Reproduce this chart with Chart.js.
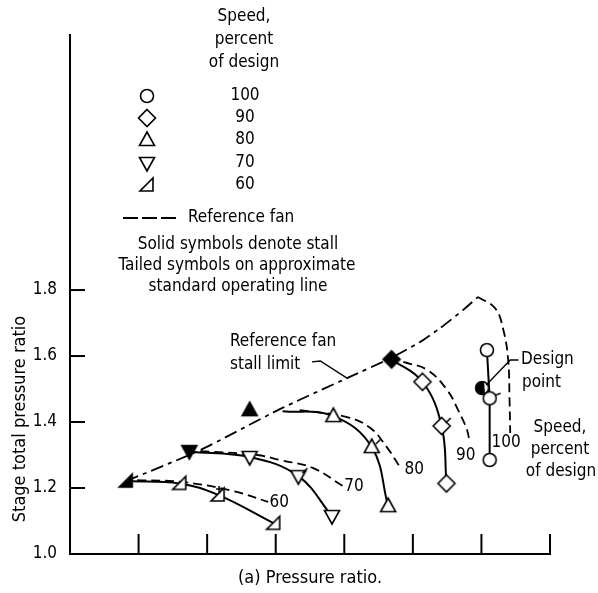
<!DOCTYPE html>
<html><head><meta charset="utf-8">
<script src="https://cdn.jsdelivr.net/npm/chart.js@4.4.0/dist/chart.umd.min.js"></script>
<style>html,body{margin:0;padding:0;background:#fff;}#wrap{width:598px;height:593px;}</style>
</head><body><div id="wrap"><canvas id="c" width="598" height="593"></canvas></div>
<script>
// ---------------- data ----------------
const yTickValues = [1.0, 1.2, 1.4, 1.6, 1.8];
const xTickValues = [1, 2, 3, 4, 5, 6, 7];
const speedLegend = ['100', '90', '80', '70', '60'];

// 60 % speed
const stall60 = [[0.82, 1.221]];
const open60 = [[1.60, 1.214], [2.16, 1.179], [2.97, 1.093]];
const line60 = [[0.82, 1.221], [1.60, 1.214], [2.16, 1.179], [2.97, 1.093]];
const ref60 = [[0.98, 1.224], [1.65, 1.218], [2.38, 1.191], [2.89, 1.158]];
// 70 % speed
const stall70 = [[1.74, 1.312]];
const open70 = [[2.62, 1.294], [3.33, 1.236], [3.82, 1.115]];
const line70 = [[1.74, 1.310], [2.62, 1.294], [3.33, 1.236], [3.82, 1.115]];
const ref70 = [[1.90, 1.312], [2.73, 1.300], [3.06, 1.285], [3.54, 1.261], [3.98, 1.206]];
// 80 % speed
const stall80 = [[2.62, 1.436]];
const open80 = [[3.84, 1.418], [4.40, 1.324], [4.64, 1.145]];
const line80 = [[3.10, 1.433], [3.84, 1.418], [4.40, 1.324], [4.64, 1.145]];
const ref80 = [[3.35, 1.436], [4.04, 1.415], [4.38, 1.382], [4.62, 1.324], [4.81, 1.264]];
// 90 % speed
const stall90 = [[4.69, 1.590]];
const open90 = [[5.14, 1.522], [5.42, 1.388], [5.49, 1.214]];
const line90 = [[4.69, 1.590], [5.14, 1.522], [5.42, 1.388], [5.49, 1.214]];
const ref90 = [[4.86, 1.582], [5.21, 1.558], [5.50, 1.497], [5.66, 1.436], [5.79, 1.376], [5.83, 1.336]];
// 100 % speed
const open100 = [[6.08, 1.618], [6.12, 1.472], [6.12, 1.285]];
const design100 = [[6.01, 1.503]];
const line100 = [[6.08, 1.618], [6.12, 1.472], [6.12, 1.285]];
const ref100 = [[5.95, 1.779], [6.20, 1.745], [6.32, 1.679], [6.39, 1.588], [6.41, 1.467], [6.42, 1.367]];
// reference fan stall limit
const stallLimit = [[0.82, 1.221], [1.90, 1.315], [3.06, 1.439], [4.04, 1.533], [4.68, 1.594], [5.10, 1.642], [5.40, 1.685], [5.73, 1.739], [5.95, 1.779]];
// index of the tailed symbol (operating line) in each open series
const tailed60 = 1, tailed70 = 1, tailed80 = 1, tailed90 = 1, tailed100 = 1;

// curve labels: text, x, y (data units)
const curveLabels = [['60', 3.05, 1.155], ['70', 4.14, 1.203], ['80', 5.02, 1.255], ['90', 5.77, 1.297], ['100', 6.36, 1.339]];
// leader lines (data units)
const stallLeader = [[3.53, 1.582], [3.65, 1.585], [4.04, 1.533]];
const designLeader = [[6.54, 1.588], [6.42, 1.588], [6.07, 1.512]];

// ---------------- styling ----------------
const FONT = '"DejaVu Sans Condensed", "DejaVu Sans", sans-serif';
const toXY = a => a.map(([x, y]) => ({x, y}));

function drawSym(g, kind, cx, cy, filled, tail) {
  g.save();
  g.lineWidth = 1.6; g.strokeStyle = '#000'; g.fillStyle = filled ? '#000' : '#fff';
  g.beginPath();
  if (kind === 'circle' || kind === 'half') g.arc(cx, cy, 6.5, 0, Math.PI * 2);
  else if (kind === 'diamond') { g.moveTo(cx, cy - 8.5); g.lineTo(cx + 8.5, cy); g.lineTo(cx, cy + 8.5); g.lineTo(cx - 8.5, cy); g.closePath(); }
  else if (kind === 'up') { g.moveTo(cx, cy - 8); g.lineTo(cx + 7.5, cy + 5.5); g.lineTo(cx - 7.5, cy + 5.5); g.closePath(); }
  else if (kind === 'down') { g.moveTo(cx - 7.5, cy - 5.5); g.lineTo(cx + 7.5, cy - 5.5); g.lineTo(cx, cy + 8); g.closePath(); }
  else if (kind === 'rt') { g.moveTo(cx - 7, cy + 6); g.lineTo(cx + 6, cy + 6); g.lineTo(cx + 6, cy - 7); g.closePath(); }
  g.fill(); g.stroke();
  if (kind === 'half') {
    g.beginPath(); g.fillStyle = '#000';
    g.arc(cx, cy, 6.5, Math.PI * 0.35, Math.PI * 1.6); g.closePath(); g.fill();
  }
  if (tail) {
    g.beginPath();
    if (kind === 'rt') { g.moveTo(cx + 1, cy - 2); g.lineTo(cx + 1, cy - 9); g.moveTo(cx - 2, cy - 6); g.lineTo(cx + 4, cy - 6); }
    else if (kind === 'circle') { g.moveTo(cx + 5.5, cy - 3); g.lineTo(cx + 11, cy - 5); }
    else { g.moveTo(cx + 4, cy - 3); g.lineTo(cx + 9, cy - 8); }
    g.stroke();
  }
  g.restore();
}
function marker(kind, filled, tail) {
  const c = document.createElement('canvas'); c.width = 32; c.height = 32;
  drawSym(c.getContext('2d'), kind, 16, 16, filled, tail);
  return c;
}
function styles(kind, n, tailIdx) {
  const a = []; for (let i = 0; i < n; i++) a.push(marker(kind, false, i === tailIdx)); return a;
}

const lineDs = (d, dash, tension) => ({data: toXY(d), showLine: true, pointRadius: 0, borderColor: '#000',
  borderWidth: dash ? 1.8 : 2, borderDash: dash || [], tension: tension === undefined ? 0.4 : tension, fill: false, order: 2});
const markDs = (d, style) => ({data: toXY(d), showLine: false, pointStyle: style, pointRadius: 8, order: 0});

const REF_DASH = [9, 5];
const datasets = [
  lineDs(line60), lineDs(line70), lineDs(line80), lineDs(line90), lineDs(line100, null, 0),
  lineDs(ref60, REF_DASH), lineDs(ref70, REF_DASH), lineDs(ref80, REF_DASH), lineDs(ref90, REF_DASH), lineDs(ref100, REF_DASH),
  lineDs(stallLimit, [13, 5, 4, 5], 0.2),
  markDs(stall60, marker('rt', true)), markDs(open60, styles('rt', open60.length, tailed60)),
  markDs(stall70, marker('down', true)), markDs(open70, styles('down', open70.length, tailed70)),
  markDs(stall80, marker('up', true)), markDs(open80, styles('up', open80.length, tailed80)),
  markDs(stall90, marker('diamond', true)), markDs(open90, styles('diamond', open90.length, tailed90)),
  markDs(open100, styles('circle', open100.length, tailed100)), markDs(design100, marker('half', false)),
];

const decor = {
  id: 'decor',
  afterDraw(chart) {
    const {ctx, chartArea: ca, scales: {x, y}} = chart;
    const P = (vx, vy) => [x.getPixelForValue(vx), y.getPixelForValue(vy)];
    ctx.save();
    ctx.strokeStyle = '#000'; ctx.fillStyle = '#000'; ctx.lineWidth = 2;
    // inward tick marks
    xTickValues.forEach(v => { const px = x.getPixelForValue(v); ctx.beginPath(); ctx.moveTo(px, ca.bottom); ctx.lineTo(px, ca.bottom - 20); ctx.stroke(); });
    yTickValues.forEach(v => { const py = y.getPixelForValue(v); ctx.beginPath(); ctx.moveTo(ca.left, py); ctx.lineTo(ca.left + 15, py); ctx.stroke(); });
    // y-axis title
    ctx.save();
    ctx.font = '18px ' + FONT; ctx.textAlign = 'center'; ctx.textBaseline = 'middle';
    ctx.translate(20, 419); ctx.rotate(-Math.PI / 2);
    ctx.fillText('Stage total pressure ratio', 0, 0);
    ctx.restore();
    // curve labels
    ctx.font = '17px ' + FONT; ctx.textBaseline = 'middle'; ctx.textAlign = 'center';
    curveLabels.forEach(([t, vx, vy]) => { const [px, py] = P(vx, vy); ctx.fillText(t, px, py); });
    // leaders
    ctx.lineWidth = 1.3;
    [stallLeader, designLeader].forEach(L => { ctx.beginPath(); L.forEach(([vx, vy], i) => { const [px, py] = P(vx, vy); i ? ctx.lineTo(px, py) : ctx.moveTo(px, py); }); ctx.stroke(); });
    // annotation texts
    ctx.textAlign = 'left';
    ctx.fillText('Reference fan', 230, 342);
    ctx.fillText('stall limit', 230, 365);
    ctx.fillText('Design', 521, 360);
    ctx.fillText('point', 522, 383);
    ctx.textAlign = 'center';
    ctx.fillText('Speed,', 560, 428);
    ctx.fillText('percent', 560, 450);
    ctx.fillText('of design', 561, 472);
    // legend
    ctx.fillText('Speed,', 244, 17);
    ctx.fillText('percent', 244, 40);
    ctx.fillText('of design', 244, 63);
    const kinds = ['circle', 'diamond', 'up', 'down', 'rt'];
    const rows = [96, 118, 140, 163, 185];
    kinds.forEach((k, i) => { drawSym(ctx, k, 147, rows[i], false, false); ctx.fillText(speedLegend[i], 245, rows[i]); });
    ctx.lineWidth = 1.8; ctx.setLineDash([15, 4]);
    ctx.beginPath(); ctx.moveTo(123, 218); ctx.lineTo(180, 218); ctx.stroke(); ctx.setLineDash([]);
    ctx.textAlign = 'left'; ctx.fillText('Reference fan', 188, 218);
    ctx.textAlign = 'center';
    ctx.fillText('Solid symbols denote stall', 238, 245);
    ctx.fillText('Tailed symbols on approximate', 237, 266);
    ctx.fillText('standard operating line', 238, 287);
    ctx.restore();
  }
};

new Chart(document.getElementById('c'), {
  type: 'scatter',
  data: {datasets},
  options: {
    responsive: false, animation: false, devicePixelRatio: 1,
    layout: {padding: {top: 35, right: 48, left: 0, bottom: 0}},
    plugins: {legend: {display: false}, tooltip: {enabled: false}},
    scales: {
      x: {type: 'linear', min: 0, max: 7, position: 'bottom',
        grid: {display: false, drawTicks: false},
        border: {display: true, color: '#000', width: 2},
        ticks: {display: false},
        title: {display: true, text: '(a) Pressure ratio.', color: '#000', font: {family: FONT, size: 18}, padding: {top: 0, bottom: 4}},
        afterFit: s => { s.height = 39; }
      },
      y: {type: 'linear', min: 1.0, max: 2.573, position: 'left',
        grid: {display: false, drawTicks: false},
        border: {display: true, color: '#000', width: 2},
        ticks: {stepSize: 0.2, includeBounds: false, color: '#000', padding: 13, font: {family: FONT, size: 17},
          callback: v => (v < 1.85 ? v.toFixed(1) : '')},
        title: {display: false},
        afterFit: s => { s.width = 70; }
      }
    }
  },
  plugins: [decor]
});
</script></body></html>
